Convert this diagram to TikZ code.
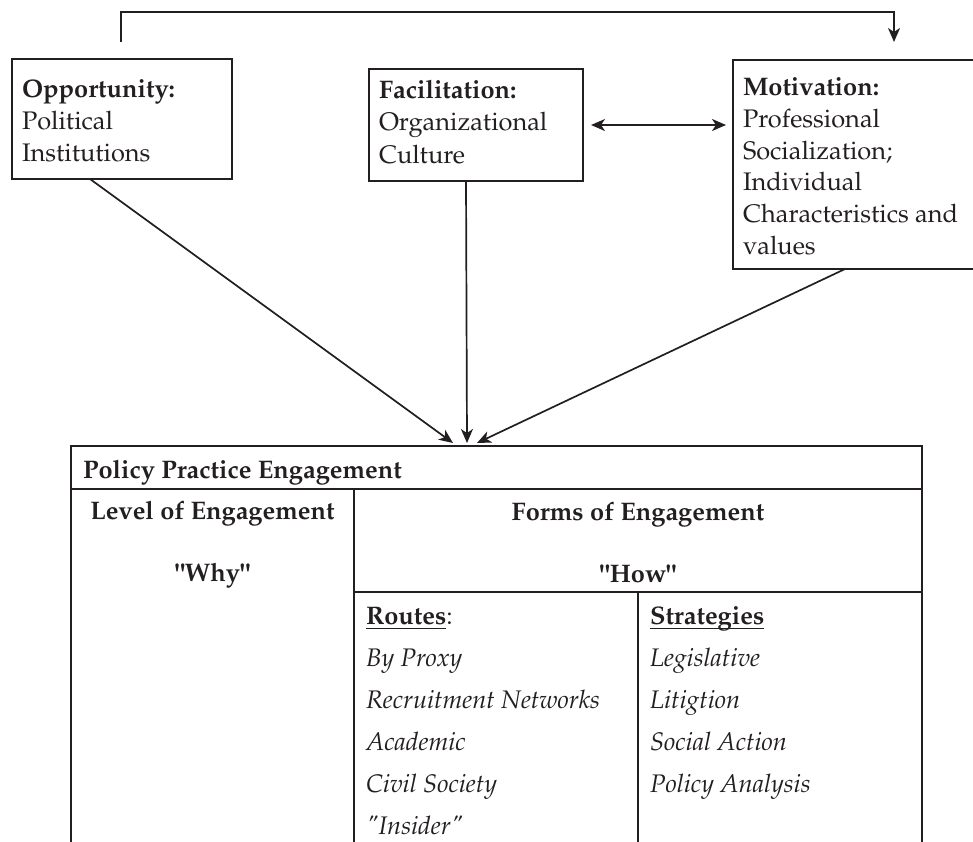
\documentclass[tikz,border=0pt]{standalone}
\usepackage[T1]{fontenc}
\usepackage{mathpazo}
\usetikzlibrary{arrows.meta,calc}
\definecolor{ink}{RGB}{35,31,32}
% stacked lines, first baseline is the box baseline
\newcommand\boxlines[1]{\vtop{\halign{##\hfil\cr#1\crcr}}}
\newcommand\boxlinesc[1]{\vtop{\halign{\hfil##\hfil\cr#1\crcr}}}
% underline at a fixed depth, through descenders
\newcommand\ulin[1]{\setbox0=\hbox{#1}\rlap{\rule[-5pt]{\wd0}{1.3pt}}\box0}

\begin{document}
\begin{tikzpicture}[x=1pt,y=1pt,
  every node/.style={text=ink, inner sep=0pt, outer sep=0pt},
  txt/.style={font=\fontsize{25.4}{#1}\selectfont},
  boxframe/.style={draw=ink, line width=1.9pt, rectangle, anchor=north west},
  tabline/.style={draw=ink, line width=2pt},
  arr/.style={draw=ink, line width=1.7pt, -{Stealth[length=14pt,width=12pt,inset=4pt]}},
  darr/.style={draw=ink, line width=1.7pt, {Stealth[length=14pt,width=12pt,inset=4pt]}-{Stealth[length=14pt,width=12pt,inset=4pt]}}
]
\path[use as bounding box] (0,0) rectangle (973,-841);

% the three factor boxes
\node[boxframe, minimum width=220pt, minimum height=120pt] (opp) at (12,-59) {};
\node[boxframe, minimum width=214pt, minimum height=112pt] (fac) at (369,-69) {};
\node[boxframe, minimum width=260pt, minimum height=209pt] (mot) at (733,-60) {};

\node[txt=32.2, anchor=base west] (opptext) at (22,-97.3)
  {\boxlines{\textbf{Opportunity:}\cr Political\cr Institutions}};
\node[txt=32.4, anchor=base west] (factext) at (379,-98.3)
  {\boxlines{\textbf{Facilitation:}\cr Organizational\cr Culture}};
\node[txt=31.7, anchor=base west] (mottext) at (743,-95.7)
  {\boxlines{\textbf{Motivation:}\cr Professional\cr Socialization;\cr Individual\cr Characteristics and\cr values}};

% engagement table
\node[boxframe, line width=2pt, minimum width=851pt, minimum height=43pt] (tbl) at (71,-446) {};
\draw[tabline] (tbl.south west) -- ++(0,-400);
\draw[tabline] (tbl.south east) -- ++(0,-400);
\draw[tabline] ($(tbl.south west)+(283,0)$) -- ++(0,-400);
\draw[tabline] ($(tbl.south west)+(283,-103)$) -- ($(tbl.south east)+(0,-103)$);
\draw[tabline] ($(tbl.south west)+(567,-103)$) -- ++(0,-300);

\node[txt=31.6, anchor=base west] (hdrtext) at (83,-478) {\textbf{Policy Practice Engagement}};
\node[txt=31.4, anchor=base] (lvltext) at (212.5,-519)
  {\boxlinesc{\textbf{Level of Engagement}\cr\cr\textbf{\textquotedbl Why\textquotedbl}}};
\node[txt=31.0, anchor=base] (formtext) at (638,-520)
  {\boxlinesc{\textbf{Forms of Engagement}\cr\cr\textbf{\textquotedbl How\textquotedbl}}};
\node[txt=42, anchor=base west] (routes) at (366,-624)
  {\boxlines{\ulin{\textbf{Routes}}:\cr\textit{By Proxy}\cr\textit{Recruitment Networks}\cr\textit{Academic}\cr\textit{Civil Society}\cr\textit{\textquotedbl Insider\textquotedbl}}};
\node[txt=42, anchor=base west] (strat) at (650,-624)
  {\boxlines{\ulin{\textbf{Strategies}}\cr\textit{Legislative}\cr\textit{Litigtion}\cr\textit{Social Action}\cr\textit{Policy Analysis}}};

% connectors
\draw[arr] ([xshift=78pt]opp.south west) -- ([xshift=382pt,yshift=3pt]tbl.north west);
\draw[arr] ([xshift=97pt]fac.south west) -- ([xshift=396pt,yshift=3pt]tbl.north west);
\draw[arr] ([xshift=112pt]mot.south west) -- ([xshift=406pt,yshift=3pt]tbl.north west);
\draw[arr] ([xshift=109pt,yshift=17pt]opp.north west) -- ++(0,30) -| ([xshift=161pt,yshift=18pt]mot.north west);
\draw[darr] ($(fac.east)+(8,0)$) -- ($(fac.east -| mot.west)+(-7,0)$);
\end{tikzpicture}
\end{document}
